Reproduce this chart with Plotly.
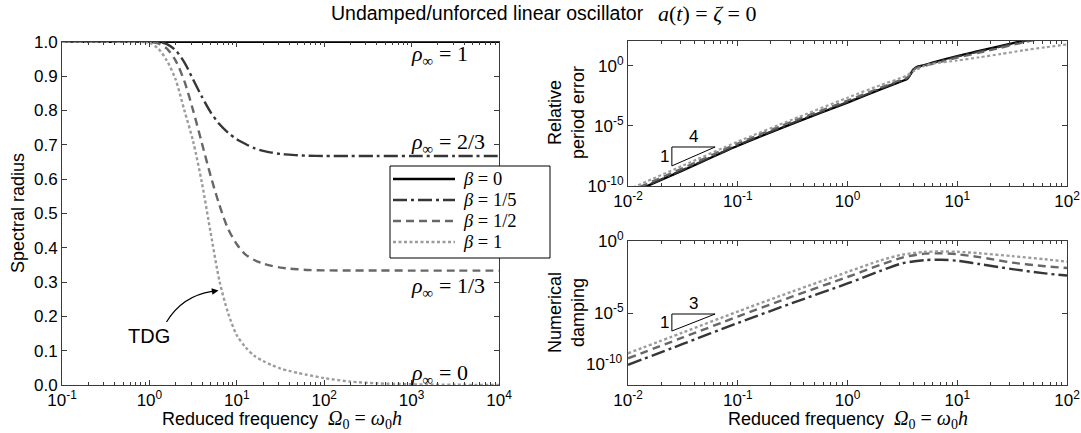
import numpy as np
import plotly.graph_objects as go

W, H = 1081, 433

# ---------------- data ----------------
beta_labels = ["0", "1/5", "1/2", "1"]

# Left panel: spectral radius vs reduced frequency (x given as log10(Omega0))
sr_log_omega = [-1, -0.3, 0, 0.1, 0.2, 0.3, 0.4, 0.5, 0.6, 0.7, 0.8, 0.9, 1.0, 1.1, 1.2,
                1.3, 1.4, 1.5, 1.6, 1.7, 1.8, 2.0, 2.3, 2.6, 3.0, 3.5, 4.0]
sr_b0 = [1.0, 1.0, 1.0, 1.0, 1.0, 1.0, 1.0, 1.0, 1.0, 1.0, 1.0, 1.0, 1.0, 1.0, 1.0,
         1.0, 1.0, 1.0, 1.0, 1.0, 1.0, 1.0, 1.0, 1.0, 1.0, 1.0, 1.0]
sr_b15 = [1.0, 1.0, 1.0, 0.999, 0.993, 0.975, 0.94, 0.89, 0.84, 0.795, 0.76, 0.735, 0.716, 0.702, 0.69,
          0.682, 0.677, 0.673, 0.671, 0.669, 0.668, 0.667, 0.667, 0.667, 0.667, 0.667, 0.667]
sr_b12 = [1.0, 1.0, 0.999, 0.995, 0.98, 0.945, 0.885, 0.80, 0.705, 0.61, 0.525, 0.455, 0.41, 0.38, 0.364,
          0.354, 0.347, 0.342, 0.339, 0.337, 0.335, 0.334, 0.3335, 0.3334, 0.3333, 0.3333, 0.3333]
sr_b1 = [1.0, 1.0, 0.997, 0.98, 0.945, 0.89, 0.80, 0.71, 0.59, 0.445, 0.305, 0.21, 0.145, 0.11, 0.085,
         0.07, 0.058, 0.048, 0.041, 0.035, 0.03, 0.02, 0.01, 0.005, 0.002, 0.0007, 0.0002]

# Top right: relative period error (log10 values)
pe_log_omega = [-2, -1.5, -1, -0.5, 0, 0.3, 0.5, 0.54, 0.57, 0.6, 0.63, 0.7, 0.8, 1.0, 1.2, 1.4, 1.6, 1.8, 2.0]
pe_b0 = [-10.7, -8.7, -6.65, -4.8, -3.05, -1.95, -1.25, -1.1, -0.75, -0.3, -0.08, 0.08, 0.35, 0.83, 1.25, 1.68, 2.1, 2.5, 2.9]
pe_b15 = [-10.65, -8.65, -6.6, -4.75, -3.0, -1.9, -1.2, -1.05, -0.72, -0.3, -0.1, 0.05, 0.3, 0.78, 1.2, 1.62, 2.05, 2.45, 2.85]
pe_b12 = [-10.5, -8.5, -6.45, -4.6, -2.88, -1.8, -1.12, -0.98, -0.7, -0.35, -0.15, 0.0, 0.22, 0.68, 1.1, 1.52, 1.95, 2.35, 2.75]
pe_b1 = [-10.3, -8.3, -6.3, -4.45, -2.64, -1.6, -0.95, -0.78, -0.6, -0.45, -0.3, 0.0, 0.22, 0.45, 0.72, 1.0, 1.3, 1.55, 1.8]

# Bottom right: numerical damping (log10 values); beta = 0 has none
nd_log_omega = [-2, -1.5, -1, -0.5, 0, 0.3, 0.5, 0.7, 0.85, 1.0, 1.2, 1.5, 1.8, 2.0]
nd_b15 = [-8.6, -7.15, -5.7, -4.3, -2.95, -2.08, -1.55, -1.33, -1.3, -1.37, -1.6, -1.95, -2.25, -2.4]
nd_b12 = [-8.15, -6.7, -5.25, -3.85, -2.5, -1.65, -1.15, -0.88, -0.85, -0.92, -1.12, -1.5, -1.75, -1.88]
nd_b1 = [-7.8, -6.35, -4.9, -3.5, -2.15, -1.35, -0.95, -0.76, -0.73, -0.75, -0.85, -1.05, -1.27, -1.44]

# slope guides: base x-range, top level (log10), slope
tri_x = [0.0251, 0.0622]
tri_pe_top_log, tri_pe_slope = -6.75, 4
tri_nd_top_log, tri_nd_slope = -5.07, 3

rho_inf_labels = ["1", "2/3", "1/3", "0"]

# tick labels
sr_xticks = [0.1, 1, 10, 100, 1000, 10000]
sr_xtext = ["10<sup>-1</sup>", "10<sup>0</sup>", "10<sup>1</sup>", "10<sup>2</sup>", "10<sup>3</sup>", "10<sup>4</sup>"]
sr_yticks = [0.0, 0.1, 0.2, 0.3, 0.4, 0.5, 0.6, 0.7, 0.8, 0.9, 1.0]
sr_ytext = ["0.0", "0.1", "0.2", "0.3", "0.4", "0.5", "0.6", "0.7", "0.8", "0.9", "1.0"]
r_xticks = [0.01, 0.1, 1, 10, 100]
r_xtext = ["10<sup>-2</sup>", "10<sup>-1</sup>", "10<sup>0</sup>", "10<sup>1</sup>", "10<sup>2</sup>"]
r_yticks = [1e-10, 1e-5, 1]
r_ytext = ["10<sup>-10</sup>", "10<sup>-5</sup>", "10<sup>0</sup>"]

# ---------------- styles ----------------
colors = ["#000000", "#363636", "#676767", "#9c9c9c"]
dashes = ["solid", "14px,4px,3px,4px", "8px,5px", "3px,2.5px"]
widths = [2.6, 2.4, 2.4, 2.4]
SANS = "Liberation Sans, Arial, Helvetica, sans-serif"
SERIF = "Liberation Serif, Times New Roman, serif"
FS = 17
AX = "#3a3a3a"


def px(xp):
    return xp / W


def py(yp):
    return 1 - yp / H


fig = go.Figure()

sr_x = np.power(10.0, sr_log_omega)
for i, ys in enumerate([sr_b0, sr_b15, sr_b12, sr_b1]):
    fig.add_trace(go.Scatter(x=sr_x, y=ys, xaxis="x", yaxis="y", mode="lines",
                             line=dict(color=colors[i], width=widths[i], dash=dashes[i],
                                       shape="spline", smoothing=0.8),
                             name="β = " + beta_labels[i], showlegend=False, hoverinfo="skip"))

pe_x = np.power(10.0, pe_log_omega)
for i, ys in enumerate([pe_b0, pe_b15, pe_b12, pe_b1]):
    fig.add_trace(go.Scatter(x=pe_x, y=np.power(10.0, ys), xaxis="x2", yaxis="y2", mode="lines",
                             line=dict(color=colors[i], width=widths[i] - 0.3, dash=dashes[i],
                                       shape="spline", smoothing=0.6),
                             showlegend=False, hoverinfo="skip"))

nd_x = np.power(10.0, nd_log_omega)
for i, ys in zip([1, 2, 3], [nd_b15, nd_b12, nd_b1]):
    fig.add_trace(go.Scatter(x=nd_x, y=np.power(10.0, ys), xaxis="x3", yaxis="y3", mode="lines",
                             line=dict(color=colors[i], width=widths[i], dash=dashes[i],
                                       shape="spline", smoothing=0.8),
                             showlegend=False, hoverinfo="skip"))

# slope triangles
annotations = []
for (xa, ya, top_log, slope) in [("x2", "y2", tri_pe_top_log, tri_pe_slope),
                                 ("x3", "y3", tri_nd_top_log, tri_nd_slope)]:
    x0, x1 = tri_x
    top = 10 ** top_log
    bot = top / (x1 / x0) ** slope
    fig.add_trace(go.Scatter(x=[x0, x1, x0, x0], y=[top, top, bot, top], xaxis=xa, yaxis=ya,
                             mode="lines", line=dict(color="black", width=1),
                             showlegend=False, hoverinfo="skip"))
    annotations.append(dict(xref=xa, yref=ya, x=np.log10(np.sqrt(x0 * x1)), y=top_log,
                            text=str(slope), showarrow=False, xanchor="center", yanchor="bottom",
                            yshift=-1, font=dict(family=SANS, size=FS, color="black")))
    annotations.append(dict(xref=xa, yref=ya, x=np.log10(x0), y=(top_log + np.log10(bot)) / 2,
                            text="1", showarrow=False, xanchor="right", yanchor="middle", xshift=-1,
                            font=dict(family=SANS, size=FS, color="black")))

common = dict(showline=True, linecolor=AX, linewidth=1, mirror="ticks", ticks="inside",
              ticklen=5, tickcolor=AX, showgrid=False, zeroline=False, automargin=False,
              tickfont=dict(family=SANS, size=FS, color="black"))
logminor = dict(ticks="inside", ticklen=3, tickcolor=AX, dtick="D1", showgrid=False)

fig.update_layout(
    template="none",
    width=W, height=H, margin=dict(l=0, r=0, t=0, b=0, pad=0, autoexpand=False),
    paper_bgcolor="white", plot_bgcolor="white", showlegend=False,
    xaxis=dict(type="log", range=[-1, 4], domain=[px(62), px(499)], anchor="y",
               tickmode="array", tickvals=sr_xticks, ticktext=sr_xtext, minor=logminor, **common),
    yaxis=dict(range=[0, 1], domain=[py(385), py(41.7)], anchor="x",
               tickmode="array", tickvals=sr_yticks, ticktext=sr_ytext, **common),
    xaxis2=dict(type="log", range=[-2, 2], domain=[px(628), px(1067)], anchor="y2",
                tickmode="array", tickvals=r_xticks, ticktext=r_xtext, minor=logminor, **common),
    yaxis2=dict(type="log", range=[-10, 2.08], domain=[py(186), py(41)], anchor="x2",
                tickmode="array", tickvals=r_yticks, ticktext=r_ytext, **common),
    xaxis3=dict(type="log", range=[-2, 2], domain=[px(628), px(1067)], anchor="y3",
                tickmode="array", tickvals=r_xticks, ticktext=r_xtext, minor=logminor, **common),
    yaxis3=dict(type="log", range=[-10, 0], domain=[py(385), py(241)], anchor="x3",
                tickmode="array", tickvals=r_yticks, ticktext=[""] + r_ytext[1:], **common),
)

# 10^-10 label of the damping axis sits higher in the original
annotations.append(dict(xref="x3 domain", yref="y3", x=0, y=-8.5, xanchor="right", yanchor="middle",
                        xshift=-4, text=r_ytext[0], showarrow=False,
                        font=dict(family=SANS, size=FS, color="black")))


def note(xp, yp, text, family=SANS, size=FS + 1, xanchor="center", angle=0):
    return dict(xref="paper", yref="paper", x=px(xp), y=py(yp), xanchor=xanchor, yanchor="middle",
                text=text, showarrow=False, textangle=angle,
                font=dict(family=family, size=size, color="black"))


# titles and axis labels
annotations += [
    note(646, 13, "Undamped/unforced linear oscillator", size=19.5, xanchor="right"),
    note(656, 13, "<i>a</i>(<i>t</i>) = <i>ζ</i> = 0", family=SERIF, size=22, xanchor="left"),
    note(18, 213, "Spectral radius", angle=-90),
    note(566, 113, "Relative<br>period error", angle=-90),
    note(566, 313, "Numerical<br>damping", angle=-90),
]
xlabel = ("Reduced frequency&nbsp;&nbsp;<span style='font-family:Liberation Serif;font-size:20px'>"
          "<i>Ω</i><sub>0</sub> = <i>ω</i><sub>0</sub><i>h</i></span>")
for cx in [282, 848]:
    annotations.append(note(cx, 419, xlabel))

# rho_inf labels
for lab, yp in zip(rho_inf_labels, [55, 143, 287, 374]):
    annotations.append(note(409, yp, "<i>ρ</i><sub>∞</sub> = " + lab, family=SERIF, size=22,
                            xanchor="left"))

# TDG label with curved arrow
annotations.append(note(149, 336, "TDG", size=20))
annotations.append(dict(xref="paper", yref="paper", x=px(218.5), y=py(290.5), text=" ",
                        showarrow=True, ax=-10, ay=1.5, arrowhead=2, arrowsize=1.1,
                        arrowwidth=1.2, arrowcolor="black", standoff=0))

shapes = [dict(type="path", xref="paper", yref="paper", layer="above",
               path="M %f,%f Q %f,%f %f,%f" % (px(166.5), py(322), px(182), py(296), px(212), py(291.3)),
               line=dict(color="black", width=1.2))]

# legend box drawn by hand (long line samples like the original)
shapes.append(dict(type="rect", xref="paper", yref="paper", layer="above",
                   x0=px(390), x1=px(550), y0=py(258), y1=py(166),
                   line=dict(color="black", width=1), fillcolor="white"))
for i, yp in enumerate([179, 200, 221, 242]):
    shapes.append(dict(type="line", xref="paper", yref="paper", layer="above",
                       x0=px(393), x1=px(455), y0=py(yp), y1=py(yp),
                       line=dict(color=colors[i], width=widths[i], dash=dashes[i])))
    annotations.append(note(461, yp, "<i>β</i> = " + beta_labels[i], family=SERIF, size=18.5,
                            xanchor="left"))

fig.update_layout(annotations=annotations, shapes=shapes)

fig.write_html("out.html", config={"displayModeBar": False},
               post_script="document.body.style.margin='0';document.body.style.overflow='hidden';")
